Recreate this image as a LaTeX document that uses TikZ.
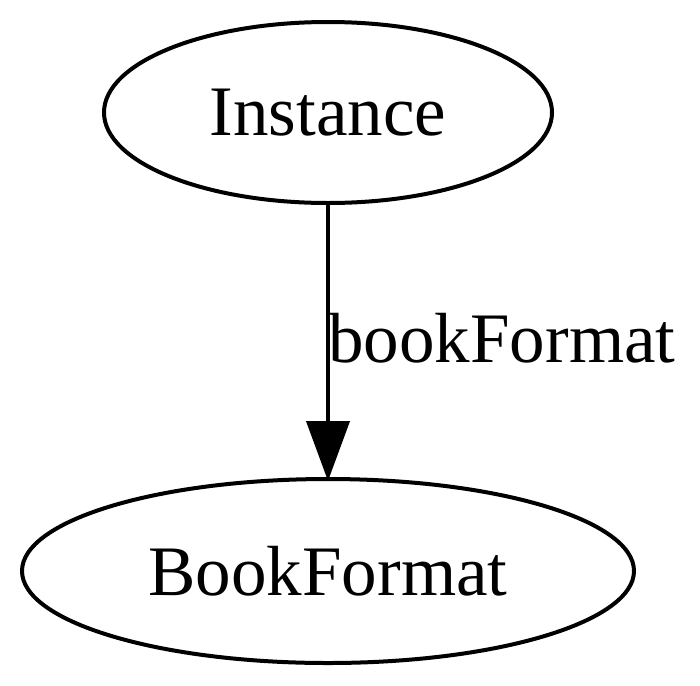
\documentclass[tikz,border=0pt]{standalone}
\usepackage{fontspec}
\setmainfont{Liberation Serif}
\usetikzlibrary{positioning,shapes,arrows.meta}
\tikzstyle{cls}=[ellipse, draw, line width=2pt, inner sep=0pt, font=\fontsize{35.5}{40}\selectfont]
\tikzstyle{line}=[-{Triangle[length=30pt,width=21.5pt]}, line width=2pt]

\begin{document}
\begin{tikzpicture}[x=0.5pt, y=-0.5pt]
            \useasboundingbox (0,0) rectangle (700,685);
            \node[cls, minimum width=224pt, minimum height=90.5pt] (inst) at (328,112.5) {Instance};
            \node[cls, minimum width=306pt, minimum height=92pt] (bf) at (328,571) {BookFormat};

            \draw[line, shorten >=-2pt] (inst) -- (bf);
            \node[anchor=base west, inner sep=0pt, font=\fontsize{35.5}{40}\selectfont] (lbl) at (328,362) {bookFormat};
        \end{tikzpicture}
\end{document}
